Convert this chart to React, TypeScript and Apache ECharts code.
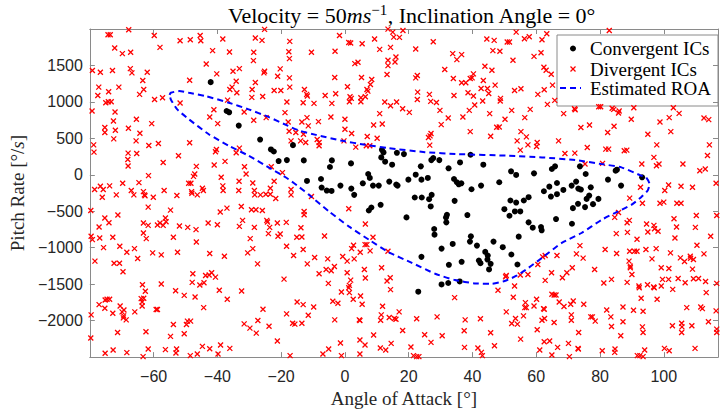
import React, { useEffect, useRef } from "react";
import * as echarts from "echarts";

// Angle of attack [deg], pitch rate [deg/s]
const convergentICs: [number, number][] = [
  [-42.1, 1271], [-37.1, 875], [-36.3, 857], [-33.3, 675], [-26.6, 484], [-23.2, 348], [-22.3, 320], [-20.8, 189], [-18.2, 202], [-16.3, 407],
  [11.6, 343], [12.1, 307], [16.3, 302], [18.5, 284], [11.4, 239], [12.6, 180], [14.8, 139], [-12.9, 198], [-4.1, 198], [-4.7, 107], [1.9, 157],
  [27.1, 202], [27.7, 230], [29.6, 202], [23.8, 116], [36.1, 170], [39.4, 275], [32.5, 89], [43.4, 139], [7.3, 11], [7.8, -43], [22.2, 2],
  [-11.9, -84], [-7.5, -57], [-1.4, -148], [2.0, -189], [5.6, -116], [8.8, -148], [10.6, -148], [13.9, -93], [16.1, -134], [16.5, -148],
  [19.9, -66], [24.0, -66], [26.0, -43], [34.2, -57], [35.1, -102], [35.7, -130], [36.5, -116], [39.7, -198], [42.7, -148], [48.4, -102],
  [-7.3, -175], [-5.7, -216], [-4.2, -221],
  [52.1, 48], [53.7, -2], [59.3, 20], [64.9, 80], [65.9, 116], [73.7, 116], [75.5, 11], [84.9, 57], [85.3, 70], [82.5, -66], [86.6, -148],
  [93.2, -34], [64.1, -162], [66.5, -112], [68.5, -207], [62.4, -225], [71.1, -148], [72.5, -93], [73.2, -189], [74.0, -202], [77.1, -171],
  [2.9, -275], [21.9, -311], [24.1, -311], [26.4, -334], [27.2, -275], [26.9, -434], [34.4, -357], [8.3, -448], [7.5, -489], [11.2, -411],
  [19.3, -584], [31.7, -584], [32.0, -548], [31.8, -652], [38.4, -552], [50.0, -471], [28.0, -743], [28.1, -821], [39.5, -843], [39.2, -916],
  [33.8, -948], [30.3, -1012], [41.4, -971], [46.6, -916], [49.5, -993], [44.0, -1057], [44.8, -1107], [44.7, -1162], [45.7, -1221],
  [42.5, -1212], [42.0, -1175], [45.2, -1298], [36.6, -1193], [32.6, -1234], [24.0, -1125], [30.3, -1503], [32.4, -1484], [36.0, -1462], [23.0, -1603],
  [51.9, -352], [53.7, -380], [56.1, -352], [57.6, -307], [64.6, -298], [66.5, -266], [51.6, -561], [53.3, -502], [55.0, -502],
  [71.5, -457], [73.1, -398], [75.3, -443], [75.8, -330], [76.6, -284], [77.8, -402], [79.5, -330], [66.2, -607], [71.2, -671],
  [57.6, -652], [58.9, -725], [61.5, -716], [61.7, -761], [54.5, -848], [52.2, -1093], [54.1, -1230],
];

const divergentICs: [number, number][] = [
  // upper left
  [-74.3, 1921], [-73.6, 1921], [-67.8, 1989], [-59.8, 1912], [-45.4, 1912], [-51.7, 1839], [-48.5, 1853], [-45.2, 1839], [-38.3, 1862],
  [-28.1, 1876], [-26.0, 1844], [-25.2, 1995], [-17.3, 1830], [-72.2, 1739], [-69.8, 1662], [-67.2, 1680], [-58.0, 1748], [-41.5, 1703],
  [-36.2, 1685], [-28.6, 1680], [-17.6, 1689], [-17.4, 1594], [-28.7, 1566], [-43.5, 1521], [-79.2, 1430], [-76.7, 1407], [-72.9, 1430],
  [-67.3, 1457], [-66.8, 1398], [-62.0, 1407], [-40.2, 1385], [-35.1, 1421], [-33.1, 1457], [-25.2, 1421], [-25.4, 1398], [-20.3, 1453],
  [-21.1, 1353], [-17.4, 1330], [-48.7, 1298], [-63.4, 1294], [-34.1, 1284], [-28.1, 1266], [-77.2, 1203], [-74.1, 1139], [-70.9, 1203],
  [-63.1, 1171], [-64.4, 1103], [-36.1, 1171], [-35.4, 1203], [-33.9, 1125], [-29.1, 1171], [-22.2, 1157], [-20.1, 1157], [-17.3, 1203],
  [-77.5, 1089], [-25.8, 1075], [-29.2, 1062], [-18.2, 998], [-59.7, 1034], [-57.2, 1057], [-75.0, 989], [-74.2, 1003], [-73.3, 1003],
  [-51.7, 984], [-36.8, 1025], [-79.3, 875], [-72.1, 862], [-41.1, 893], [-31.6, 862], [-42.4, 793], [-24.7, 784], [-28.6, 748], [-17.8, 725],
  [-18.8, 853], [-65.4, 762], [-72.6, 739], [-60.6, 702], [-39.9, 702], [-75.3, 648], [-72.0, 612], [-75.3, 580], [-67.9, 639], [-64.3, 571],
  [-17.5, 598], [-15.4, 580], [-16.9, 466], [-72.5, 493], [-65.5, 466], [-61.5, 402], [-58.5, 430], [-48.7, 439], [-78.8, 411], [-78.7, 311],
  [-40.3, 348], [-40.6, 316], [-33.1, 366], [-34.1, 302], [-68.0, 298], [-65.3, 293], [-52.2, 261], [-68.1, 211], [-68.0, 120], [-57.0, 170],
  [-41.0, 134], [-37.6, 184], [-23.1, 111], [-31.5, 111], [-46.6, 116], [-19.6, 30], [-61.6, -11], [-47.1, 11], [-47.5, -21], [-38.8, -34],
  [-31.0, 11], [-69.7, -116], [-64.6, -107], [-49.0, -116], [-48.3, -116], [-33.2, -89], [-28.9, -112], [-22.2, -89], [-38.3, -152],
  [-76.7, -157], [-75.8, -202], [-73.8, -152], [-67.0, -216], [-63.2, -230], [-56.7, -216], [-48.1, -230], [-44.7, -184], [-44.4, -216],
  [-38.2, -216], [-33.3, -216], [-28.4, -216], [-23.4, -184], [-16.9, -202], [-78.5, -202],
  // upper middle
  [-1.7, 1912], [13.5, 1998], [15.0, 1957], [15.3, 1889], [17.1, 1885], [18.2, 1980], [1.2, 1816], [1.8, 1807], [5.4, 1798], [9.3, 1862],
  [10.9, 1721], [14.3, 1748], [-10.5, 1680], [-3.1, 1694], [3.1, 1525], [4.1, 1544], [13.5, 1571], [16.0, 1616], [15.7, 1548], [13.5, 1498],
  [13.2, 1375], [22.2, 1726], [27.7, 1826], [44.5, 1862], [46.8, 1844], [50.9, 1821], [46.4, 1703], [48.6, 1694], [33.8, 1662], [36.6, 1648],
  [35.1, 1580], [31.3, 1444], [43.9, 1489], [46.1, 1434], [40.3, 1385], [39.9, 1330], [-3.2, 1335], [5.2, 1335], [8.4, 1307], [-12.7, 1171],
  [-12.0, 1103], [-11.8, 1080], [0.8, 1207], [6.9, 1171], [7.2, 1148], [8.0, 1239], [6.4, 1071], [5.0, 1057], [5.0, 1003], [1.6, 1071],
  [2.0, 1048], [1.4, 1003], [-2.9, 1112], [-6.2, 1089], [-13.1, 989], [-9.7, 980], [-4.1, 980], [22.2, 1330], [22.7, 1362], [22.8, 1134],
  [22.7, 1034], [26.5, 1103], [26.9, 1007], [28.7, 993], [34.0, 1321], [36.6, 1262], [37.9, 1262], [39.3, 1321], [34.2, 1089], [38.6, 1125],
  [40.3, 1080], [40.7, 957], [42.7, 1184], [44.7, 1184], [45.1, 1116], [43.4, 1294], [47.1, 1230], [48.8, 1048], [48.7, 1012], [43.2, 1012],
  [12.5, 998], [14.3, 948], [16.2, 998], [18.1, 907], [20.2, 857], [10.9, 839], [29.8, 884], [39.0, 884], [37.0, 793], [32.4, 780],
  [45.4, 839], [50.2, 762], [-4.4, 793], [-8.3, 730], [0.0, 762], [-11.9, 784], [-11.5, 671], [-13.5, 725], [0.0, 625], [2.1, 566],
  [9.0, 684], [11.7, 698], [30.2, 689], [47.6, 652], [48.4, 657], [39.3, 593], [45.7, 530], [-13.0, 557], [-13.9, 466], [-12.3, 443],
  [-8.7, 484], [-8.1, 443], [-8.1, 398], [7.0, 525], [10.1, 502], [-0.3, 466], [3.4, 380], [6.7, 398], [7.8, 398], [27.0, 566],
  [26.7, 534], [26.2, 512], [26.6, 407],
  // upper right
  [51.6, 1821], [53.7, 1957], [56.3, 1867], [57.8, 1894], [61.8, 1853], [63.3, 1935], [82.9, 1980], [52.7, 1571], [59.3, 1625], [61.5, 1675],
  [62.4, 1475], [63.1, 1435], [64.7, 1380], [53.2, 1157], [55.2, 1180], [60.5, 1103], [62.5, 1166], [65.1, 1230], [63.5, 966], [65.8, 1021],
  [52.3, 884], [58.1, 898], [56.4, 784], [72.0, 907], [72.2, 893], [68.6, 839], [79.6, 934], [80.2, 934], [83.8, 912], [84.3, 898],
  [85.8, 848], [86.0, 875], [90.6, 921], [89.8, 762], [98.8, 725], [101.7, 784], [104.8, 843], [112.6, 780], [114.1, 757], [103.0, 921],
  [76.7, 684], [74.0, 648], [84.4, 666], [82.4, 580], [55.2, 593], [56.9, 521], [67.0, 466], [60.3, 443], [60.1, 389], [57.4, 411],
  [54.0, 466], [55.0, 339], [76.0, 375], [69.0, 293], [72.1, 298], [81.8, 352], [82.7, 352], [87.6, 330], [88.4, 339], [95.0, 557],
  [102.2, 593], [97.8, 411], [114.3, 411], [96.9, 239], [113.7, 266], [98.5, 148], [97.7, 125], [93.1, 148], [106.0, 148], [113.0, 80],
  [111.3, 57], [75.3, 148], [80.8, 157], [116.4, -116], [101.5, -139], [105.4, -157], [109.0, -171], [92.7, -171], [100.3, -216],
  // lower left
  [-76.1, -307], [-71.7, -275], [-66.2, -275], [-62.9, -275], [-62.7, -288], [-60.1, -307], [-52.7, -284], [-48.0, -252], [-46.3, -275],
  [-28.3, -275], [-26.5, -275], [-24.8, -266], [-23.4, -266], [-21.7, -325], [-16.9, -275], [-79.7, -489], [-61.7, -443], [-54.7, -484],
  [-75.3, -593], [-74.0, -657], [-77.1, -716], [-71.2, -552], [-63.2, -661], [-61.7, -693], [-58.8, -689], [-58.0, -661], [-57.0, -693],
  [-56.3, -593], [-56.1, -643], [-51.9, -702], [-49.3, -721], [-46.7, -752], [-42.9, -661], [-40.0, -684], [-39.1, -511], [-37.0, -457],
  [-32.5, -434], [-29.3, -480], [-27.9, -480], [-25.9, -489], [-32.1, -625], [-33.1, -707], [-28.4, -721], [-24.5, -625], [-24.3, -648],
  [-23.6, -721], [-24.0, -807], [-21.2, -661], [-18.4, -652], [-20.3, -812], [-21.0, -843], [-15.1, -857], [-79.2, -889], [-79.6, -843],
  [-76.9, -866], [-72.8, -857], [-63.2, -798], [-62.3, -875], [-53.8, -857], [-46.6, -921], [-29.7, -875], [-75.7, -998], [-70.6, -980],
  [-68.4, -1062], [-66.0, -1012], [-60.3, -1071], [-57.6, -1098], [-52.5, -1062], [-42.4, -1080], [-37.8, -1116], [-30.5, -1071],
  [-28.9, -1012], [-27.4, -1221], [-18.3, -980], [-16.1, -1107], [-78.4, -1184], [-72.4, -1212], [-70.7, -1212], [-69.6, -1330],
  [-65.0, -1148], [-47.7, -1357], [-43.7, -1380], [-42.6, -1375], [-41.8, -1344], [-40.6, -1403], [-47.9, -1475], [-45.5, -1512],
  [-44.2, -1480], [-19.1, -1430], [-63.5, -1507], [-57.6, -1498], [-62.6, -1598], [-53.1, -1589], [-50.4, -1653], [-47.0, -1675],
  [-39.4, -1584], [-36.9, -1707], [-32.4, -1594], [-15.0, -1744], [-75.2, -1716], [-74.6, -1707], [-73.8, -1707], [-77.1, -1780],
  [-75.3, -1830], [-70.5, -1798], [-69.3, -1853], [-69.9, -1880], [-69.4, -1935], [-69.5, -1962], [-68.6, -1989], [-72.8, -1898],
  [-65.9, -1880], [-63.9, -1698], [-63.1, -1694], [-63.6, -1744], [-63.6, -1798], [-59.2, -1848], [-58.8, -1848], [-44.3, -1821],
  [-79.6, -1921], [-49.4, -2007], [-48.4, -2007], [-49.7, -2053], [-53.8, -2053], [-54.7, -2216], [-50.4, -2180], [-62.4, -2153],
  [-71.3, -2162], [-79.7, -2239], [-31.6, -2044], [-29.8, -2103], [-27.8, -2171], [-27.3, -1998], [-25.7, -1844], [-23.8, -2076],
  [-21.2, -2280], [-18.3, -1907], [-16.4, -2035], [-15.7, -2048], [-75.2, -2448], [-72.7, -2403], [-68.4, -2439], [-61.7, -2389],
  [-63.3, -2494], [-56.3, -2398], [-52.8, -2389], [-53.0, -2444], [-48.5, -2480], [-46.3, -2457], [-44.7, -2353], [-42.4, -2385],
  [-39.8, -2457], [-39.0, -2335], [-36.1, -2380], [-17.2, -2480],
  // lower middle
  [-10.5, -298], [-12.8, -502], [-12.8, -548], [1.2, -466], [6.4, -675], [-13.8, -725], [-13.5, -852], [-6.4, -839], [8.8, -857],
  [6.3, -957], [6.9, -957], [2.7, -966], [2.1, -1012], [-13.1, -1025], [4.8, -1062], [7.9, -1043], [13.5, -1048], [-9.5, -1134],
  [-5.4, -1153], [-0.7, -1121], [0.7, -1184], [2.9, -1153], [-11.8, -1221], [-8.1, -1357], [-5.9, -1298], [-4.3, -1316], [-3.3, -1257],
  [0.7, -1344], [6.1, -1298], [11.5, -1275], [14.2, -1412], [13.2, -1457], [6.4, -1416], [1.8, -1444], [1.4, -1516], [1.2, -1548],
  [1.4, -1616], [-5.2, -1489], [14.3, -1575], [-1.1, -1607], [4.9, -1662], [2.6, -1707], [-3.8, -1734], [-2.2, -1762], [5.4, -1775],
  [-13.1, -1780], [-9.8, -1812], [11.8, -1803], [17.0, -1880], [11.4, -1921], [-11.5, -1925], [-3.2, -1989], [4.5, -1989], [4.7, -1998],
  [11.2, -1994], [13.9, -1957], [15.5, -1971], [16.0, -1980], [22.5, -1975], [28.9, -1948], [37.7, -1989], [42.5, -1975], [-13.5, -2035],
  [34.4, -1684], [48.0, -1584], [50.6, -1380], [50.4, -1398], [50.6, -1880], [18.1, -2135], [25.0, -2194], [30.5, -2207], [37.4, -2139],
  [45.7, -2166], [46.9, -2344], [41.7, -2376], [37.5, -2367], [42.8, -2435], [43.1, -2480], [27.0, -2298], [20.7, -2362], [21.5, -2480],
  [22.5, -2494], [23.2, -2494], [14.5, -2312], [11.1, -2376], [12.8, -2403], [9.0, -2198], [6.3, -2335], [4.7, -2266], [4.7, -2457],
  [-1.4, -2307], [-1.1, -2480], [-5.1, -2389], [-6.9, -2457],
  // lower right
  [89.3, -320], [93.3, -389], [98.8, -389], [100.0, -375], [104.1, -389], [105.4, -389], [110.2, -557], [116.6, -557], [103.2, -602],
  [104.0, -716], [109.9, -721], [114.7, -843], [110.4, -966], [85.8, -516], [84.6, -584], [88.5, -657], [89.2, -625], [94.6, -675],
  [96.9, -693], [97.1, -739], [95.0, -784], [98.2, -775], [88.6, -789], [85.1, -807], [91.6, -884], [103.5, -866], [73.7, -971],
  [81.6, -1025], [85.2, -1080], [89.3, -1048], [90.8, -1048], [91.6, -1048], [94.4, -1025], [97.6, -1012], [102.1, -1071], [96.3, -1153],
  [89.1, -1184], [89.5, -1252], [89.5, -1275], [90.0, -1366], [99.2, -1275], [101.6, -1284], [105.2, -1139], [106.5, -1189], [108.3, -1116],
  [108.4, -1144], [109.3, -1162], [109.0, -1293], [112.6, -1084], [72.6, -1084], [74.7, -1143], [66.5, -1107], [62.0, -1125], [62.8, -1107],
  [60.5, -1230], [71.3, -1275], [78.3, -1298], [64.8, -1344], [69.6, -1344], [68.2, -1412], [62.8, -1448], [57.4, -1366], [55.0, -1375],
  [53.2, -1525], [81.2, -1484], [83.6, -1434], [88.5, -1475], [92.2, -1525], [92.3, -1548], [94.9, -1507], [96.8, -1539], [97.0, -1548],
  [99.2, -1525], [99.6, -1434], [101.5, -1434], [102.8, -1571], [104.5, -1421], [106.7, -1480], [109.3, -1425], [110.9, -1421],
  [113.1, -1462], [116.6, -1489], [113.3, -1616], [92.9, -1693], [97.9, -1707], [52.8, -1680], [56.6, -1753], [56.4, -1821], [56.9, -1821],
  [60.1, -1707], [59.3, -1798], [64.9, -1639], [65.6, -1648], [66.2, -1648], [67.2, -1744], [68.7, -1807], [70.8, -1775], [71.6, -1730],
  [74.9, -1775], [62.3, -1835], [62.5, -1844], [82.1, -1853], [87.2, -1812], [90.5, -1857], [93.5, -1871], [107.2, -1821], [111.6, -1812],
  [112.1, -1835], [116.4, -1866], [56.0, -1935], [53.5, -1971], [52.3, -2039], [54.1, -2048], [61.8, -1994], [62.6, -1971], [65.6, -2025],
  [71.0, -1921], [71.0, -1994], [77.1, -1948], [77.6, -1948], [78.5, -2007], [83.4, -1948], [83.6, -2080], [87.2, -2016], [93.3, -2085],
  [93.5, -2162], [102.7, -2071], [105.6, -2035], [105.7, -2085], [105.6, -2162], [108.8, -2071], [114.0, -2016], [116.6, -2116],
  [116.6, -2162], [60.3, -2125], [73.3, -2162], [55.1, -2253], [62.5, -2289], [64.2, -2280], [70.1, -2312], [66.7, -2367], [73.1, -2380],
  [73.2, -2389], [61.1, -2403], [64.9, -2471], [70.4, -2494], [80.7, -2412], [84.7, -2389], [84.6, -2435], [86.5, -2207], [91.7, -2480],
  [92.5, -2480], [93.5, -2494], [94.0, -2403], [100.2, -2380], [101.7, -2412], [109.8, -2380],
];

const roaBoundary: [number, number][] = [
  [-55.0, 1096], [-54.6, 1125], [-52.0, 1148], [-48.9, 1125], [-43.7, 1080], [-36.4, 989], [-30.2, 898], [-24.0, 794], [-17.8, 671],
  [-14.3, 607], [-9.1, 548], [-0.8, 466], [6.4, 412], [13.7, 366], [25.1, 311], [35.5, 284], [51.4, 262], [61.8, 239], [72.2, 202],
  [80.5, 147], [86.7, 102], [92.9, -11], [94.4, -34], [95.5, -125], [95.0, -211], [92.9, -307], [89.8, -412], [84.6, -525], [80.5, -617],
  [74.2, -798], [68.0, -934], [61.8, -1139], [57.6, -1275], [54.0, -1380], [50.1, -1457], [45.9, -1494], [40.7, -1489], [34.5, -1443],
  [28.3, -1357], [21.0, -1207], [13.7, -1061], [7.5, -889], [1.2, -707], [-5.0, -502], [-11.2, -276], [-14.3, -170], [-17.8, -57],
  [-23.0, 79], [-30.2, 262], [-36.4, 398], [-42.7, 557], [-48.9, 761], [-52.6, 898], [-54.6, 1034], [-55.0, 1096],
];

const xRange = [-80, 117];
const yRange = [-2500, 2000];
const xStep = 20;
const yStep = 500;
const legendLabels = ["Convergent ICs", "Divergent ICs", "Estimated ROA"];

const SERIF = '"Liberation Serif", "Times New Roman", serif';
const SANS = '"Liberation Sans", Arial, sans-serif';
const AXIS_GRAY = "#8a8a8a";
const TEXT = "#262626";

function fmtTick(step: number, hide: number[]) {
  return (v: number) => {
    if (Math.abs(v / step - Math.round(v / step)) > 1e-6) return "";
    if (hide.includes(v)) return "";
    return String(v).replace("-", "\u2212");
  };
}

export default function App() {
  const ref = useRef<HTMLDivElement>(null);
  useEffect(() => {
    if (!ref.current) return;
    const chart = echarts.init(ref.current, undefined, { renderer: "svg" });
    const baseX = {
      type: "value" as const,
      min: xRange[0],
      max: xRange[1],
      interval: xStep,
      splitLine: { show: false },
      axisLine: { show: true, onZero: false, lineStyle: { color: AXIS_GRAY, width: 1 } },
      axisTick: { show: true, inside: true, length: 5, lineStyle: { color: AXIS_GRAY } },
    };
    const baseY = {
      type: "value" as const,
      min: yRange[0],
      max: yRange[1],
      interval: yStep,
      splitLine: { show: false },
      axisLine: { show: true, onZero: false, lineStyle: { color: AXIS_GRAY, width: 1 } },
      axisTick: { show: true, inside: true, length: 5, lineStyle: { color: AXIS_GRAY } },
    };
    const option: any = {
      animation: false,
      backgroundColor: "#ffffff",
      title: {
        text: "Velocity = 50{it|ms}{sup|\u22121}, Inclination Angle = 0°",
        left: 407,
        top: -3,
        textAlign: "center",
        textStyle: {
          fontFamily: SERIF,
          fontSize: 22,
          fontWeight: "normal",
          color: "#000",
          lineHeight: 26,
          rich: {
            it: { fontFamily: SERIF, fontSize: 22, fontStyle: "italic", color: "#000", lineHeight: 26 },
            sup: { fontFamily: SERIF, fontSize: 15, color: "#000", verticalAlign: "top", lineHeight: 16 },
          },
        },
      },
      grid: { left: 88, right: 1, top: 29, bottom: 52, containLabel: false },
      xAxis: [
        {
          ...baseX,
          position: "bottom",
          name: "Angle of Attack [°]",
          nameLocation: "middle",
          nameGap: 30,
          nameTextStyle: { fontFamily: SERIF, fontSize: 19, color: TEXT },
          axisLabel: { show: true, margin: 11, fontFamily: SANS, fontSize: 16, color: TEXT, formatter: fmtTick(xStep, [-80]) },
        },
        { ...baseX, position: "top", axisLabel: { show: false } },
      ],
      yAxis: [
        {
          ...baseY,
          position: "left",
          name: "Pitch Rate [°/{it|s}]",
          nameLocation: "middle",
          nameGap: 57,
          nameTextStyle: {
            fontFamily: SERIF,
            fontSize: 19,
            color: TEXT,
            rich: { it: { fontFamily: SERIF, fontSize: 19, fontStyle: "italic", color: TEXT } },
          },
          axisLabel: { show: true, margin: 7, fontFamily: SANS, fontSize: 16, color: TEXT, formatter: fmtTick(yStep, [-2500, 2000]) },
        },
        { ...baseY, position: "right", axisLabel: { show: false } },
      ],
      series: [
        {
          name: legendLabels[1],
          type: "scatter",
          xAxisIndex: 0,
          yAxisIndex: 0,
          data: divergentICs,
          symbol: "path://M0,0L10,10M10,0L0,10",
          symbolSize: 5,
          itemStyle: { color: "transparent", borderColor: "#ff0000", borderWidth: 1.3, opacity: 1 },
          clip: true,
        },
        {
          name: legendLabels[0],
          type: "scatter",
          xAxisIndex: 0,
          yAxisIndex: 0,
          data: convergentICs,
          symbol: "circle",
          symbolSize: 6,
          itemStyle: { color: "#000000", opacity: 1 },
          clip: true,
        },
        {
          name: legendLabels[2],
          type: "line",
          xAxisIndex: 0,
          yAxisIndex: 0,
          data: roaBoundary,
          symbol: "none",
          smooth: 0.2,
          lineStyle: { color: "#0000ff", width: 2, type: [6, 4] },
        },
      ],
      graphic: [
        {
          type: "group",
          z: 100,
          children: [
            { type: "rect", shape: { x: 557, y: 35, width: 161, height: 71 }, style: { fill: "#ffffff", stroke: AXIS_GRAY, lineWidth: 1 } },
            { type: "circle", shape: { cx: 573, cy: 48.5, r: 3 }, style: { fill: "#000000" } },
            { type: "line", shape: { x1: 570.5, y1: 66.5, x2: 575.5, y2: 71.5 }, style: { stroke: "#ff0000", lineWidth: 1.3 } },
            { type: "line", shape: { x1: 575.5, y1: 66.5, x2: 570.5, y2: 71.5 }, style: { stroke: "#ff0000", lineWidth: 1.3 } },
            { type: "line", shape: { x1: 560, y1: 88, x2: 581, y2: 88 }, style: { stroke: "#0000ff", lineWidth: 2, lineDash: [6, 4] } },
            { type: "text", x: 590, y: 48.5, style: { text: legendLabels[0], font: `19px ${SERIF}`, fill: "#000", verticalAlign: "middle" } },
            { type: "text", x: 590, y: 69, style: { text: legendLabels[1], font: `19px ${SERIF}`, fill: "#000", verticalAlign: "middle" } },
            { type: "text", x: 590, y: 88, style: { text: legendLabels[2], font: `19px ${SERIF}`, fill: "#000", verticalAlign: "middle" } },
          ],
        },
      ],
    };
    chart.setOption(option);
    return () => chart.dispose();
  }, []);
  return <div ref={ref} style={{ position: "absolute", left: 0, top: 0, width: 721, height: 413 }} />;
}
